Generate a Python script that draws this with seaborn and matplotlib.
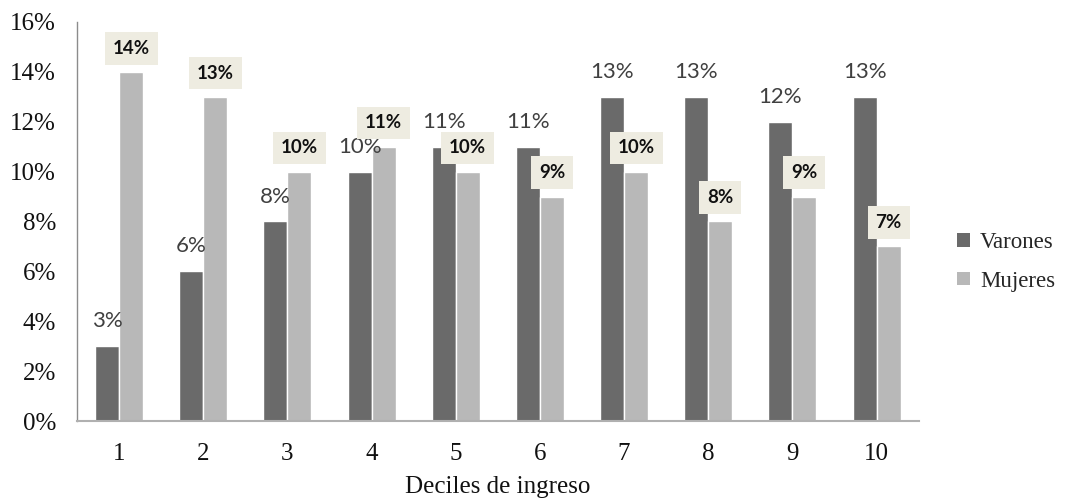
import numpy as np
import pandas as pd
import seaborn as sns
import matplotlib
matplotlib.use("Agg")
import matplotlib.pyplot as plt
from matplotlib.patches import Patch

# Distribución por deciles de ingreso, en porcentaje
deciles = ["1", "2", "3", "4", "5", "6", "7", "8", "9", "10"]
varones = [3, 6, 8, 10, 11, 11, 13, 13, 12, 13]
mujeres = [14, 13, 10, 11, 10, 9, 10, 8, 9, 7]
series = ["Varones", "Mujeres"]
colores = ["#6A6A6A", "#B8B8B8"]
y_ticks = [0, 2, 4, 6, 8, 10, 12, 14, 16]

df = pd.DataFrame({
    "decil": deciles * 2,
    "valor": varones + mujeres,
    "sexo": [series[0]] * len(deciles) + [series[1]] * len(deciles),
})

sns.set_theme(style="white")
serif = ["Liberation Serif", "DejaVu Serif"]
plt.rcParams["font.family"] = serif

fig = plt.figure(figsize=(10.67, 4.99), dpi=100)
ax = fig.add_axes([0.0722, 0.1563, 0.861 - 0.0722, 0.956 - 0.1563])

sns.barplot(data=df, x="decil", y="valor", hue="sexo", order=deciles,
            hue_order=series, palette=colores, width=0.57, saturation=1,
            errorbar=None, ax=ax, legend=False)

ax.set_ylim(0, 16)
ax.set_xlim(-0.5, len(deciles) - 0.5)
ax.set_yticks(y_ticks)
ax.set_yticklabels([f"{t}%" for t in y_ticks], fontsize=18, color="#111111")
ax.set_xticks(range(len(deciles)))
ax.set_xticklabels(deciles, fontsize=18, color="#111111")
ax.tick_params(axis="both", length=0)
ax.tick_params(axis="x", pad=16)
ax.tick_params(axis="y", pad=15)
ax.set_xlabel("Deciles de ingreso", fontsize=18, color="#111111", labelpad=8)
ax.set_ylabel("")

for side in ("top", "right"):
    ax.spines[side].set_visible(False)
ax.spines["left"].set_color("#8C8C8C")
ax.spines["left"].set_linewidth(1.0)
ax.spines["bottom"].set_color("#B0B0B0")
ax.spines["bottom"].set_linewidth(1.5)

# Etiquetas de valor: varones en texto simple, mujeres en recuadro
for bar, v in zip(ax.containers[0], varones):
    cx = bar.get_x() + bar.get_width() / 2
    ax.text(cx, bar.get_height() + 1.0, f"{v}%", ha="center", va="center",
            fontsize=16, color="#404040", family=["Lato", "DejaVu Sans"])

for bar, v in zip(ax.containers[1], mujeres):
    cx = bar.get_x() + bar.get_width() / 2
    ax.text(cx, bar.get_height() + 0.95, f"{v}%", ha="center", va="center",
            fontsize=13.5, fontweight="bold", color="#111111",
            family=["Lato", "DejaVu Sans"],
            bbox=dict(boxstyle="square,pad=0.42", facecolor="#EEECE1",
                      edgecolor="none"))

handles = [Patch(facecolor=c, edgecolor="none") for c in colores]
fig.legend(handles, series, loc="center left", bbox_to_anchor=(0.897, 0.475),
           frameon=False, fontsize=16.5, handlelength=0.55, handleheight=0.55,
           handletextpad=0.45, labelspacing=0.75, borderpad=0,
           borderaxespad=0)

fig.savefig("out.png", dpi=100)
